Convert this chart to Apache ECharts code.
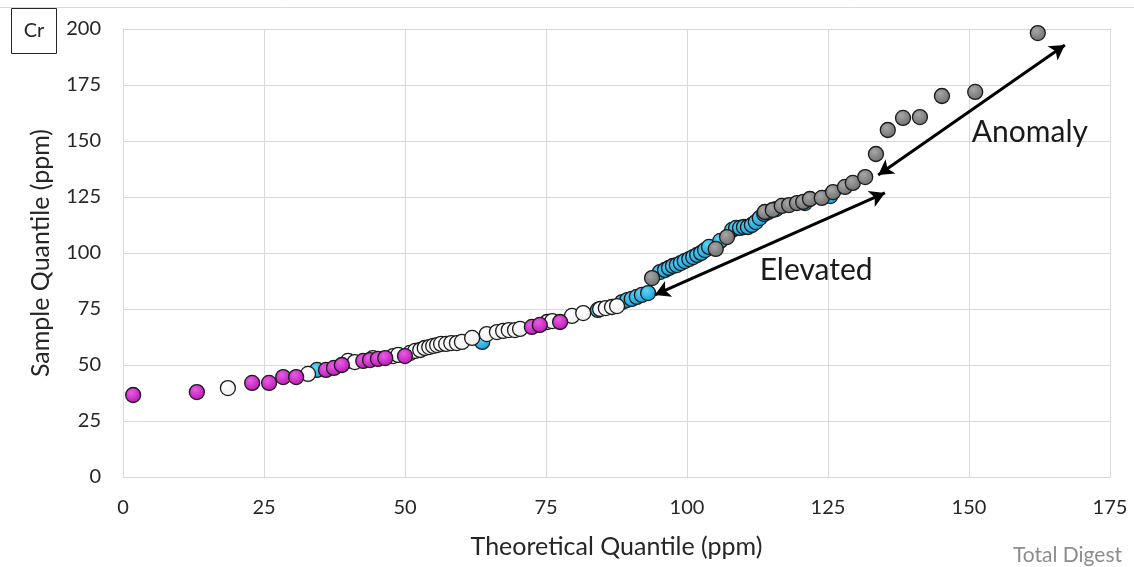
<!DOCTYPE html>
<html>
<head>
<meta charset="utf-8">
<script src="https://cdn.jsdelivr.net/npm/echarts@6/dist/echarts.min.js"></script>
<style>
  html, body { margin: 0; padding: 0; background: #fff; }
  #chart { width: 1134px; height: 567px; }
</style>
</head>
<body>
<div id="chart"></div>
<script>
// Q-Q plot of Cr (ppm): theoretical quantile vs sample quantile, grouped by colour class
const xTicks = [0, 25, 50, 75, 100, 125, 150, 175];
const yTicks = [0, 25, 50, 75, 100, 125, 150, 175, 200];

const magentaPts = [
  [1.8, 36.6], [13.1, 37.9], [22.9, 42.0], [25.9, 42.0], [28.4, 44.6], [30.7, 44.6],
  [36.0, 47.8], [37.4, 48.7], [38.8, 50.0], [42.6, 51.8], [43.8, 52.2], [45.2, 52.7],
  [46.5, 53.1], [50.0, 54.0], [72.5, 67.0], [73.9, 67.9], [77.5, 69.2]
];

const whitePts = [
  [18.6, 39.7], [32.8, 46.0], [39.9, 51.8], [41.1, 51.3], [44.3, 53.1], [47.9, 54.0],
  [48.8, 54.5], [50.9, 55.4], [51.8, 56.3], [52.7, 56.7], [53.5, 57.6], [54.3, 58.0],
  [55.0, 58.5], [55.7, 58.9], [56.4, 59.4], [57.3, 59.4], [58.2, 59.8], [59.2, 59.8],
  [60.1, 60.3], [61.9, 62.1], [64.5, 63.8], [66.3, 64.7], [67.4, 65.2], [68.4, 65.6],
  [69.5, 65.6], [70.4, 66.1], [75.2, 69.2], [76.1, 69.6], [79.6, 71.9], [81.6, 73.2],
  [84.6, 75.0], [85.6, 75.4], [86.7, 75.9], [87.6, 76.3]
];

const cyanPts = [
  [34.4, 47.8], [63.7, 60.3], [84.2, 74.6], [88.5, 78.1], [89.4, 79.0], [90.2, 79.5],
  [91.1, 80.4], [92.0, 81.3], [93.1, 82.1],
  [95.2, 91.5], [96.1, 92.4], [96.8, 93.3], [97.5, 94.2], [98.2, 94.6], [98.9, 95.5],
  [99.6, 96.4], [100.4, 97.3], [101.1, 98.2], [101.8, 99.1], [102.5, 100.0], [103.2, 101.3],
  [103.9, 102.7], [105.9, 105.4], [108.0, 110.3], [108.7, 111.2], [109.4, 111.2],
  [110.1, 111.6], [110.8, 111.6], [111.5, 112.5], [112.2, 113.8], [112.9, 115.6],
  [113.7, 117.4], [114.4, 118.3], [115.8, 119.6], [120.9, 122.3], [125.4, 125.4]
];

const grayPts = [
  [93.8, 88.8], [105.1, 101.8], [107.1, 107.1], [113.8, 118.3], [115.2, 119.2],
  [116.8, 121.0], [118.1, 121.4], [119.5, 122.3], [120.6, 122.8], [121.8, 124.1],
  [123.9, 124.6], [125.9, 127.2], [128.0, 129.5], [129.4, 131.3], [131.6, 133.9],
  [133.5, 144.2], [135.6, 154.9], [138.3, 160.3], [141.3, 160.7], [145.2, 170.1],
  [151.1, 171.9], [162.2, 198.2]
];

// Annotation arrows (data coordinates) and their captions
const elevatedArrow = [[94.3, 81.3], [135.1, 126.8]];
const anomalyArrow = [[133.9, 134.8], [167.0, 192.9]];
const elevatedLabel = { text: 'Elevated', at: [122.9, 92.4] };
const anomalyLabel = { text: 'Anomaly', at: [160.8, 154.0] };

const FONT = 'Lato, "Open Sans", sans-serif';

function ball(light, dark) {
  return {
    type: 'radial', x: 0.4, y: 0.35, r: 0.7,
    colorStops: [{ offset: 0, color: light }, { offset: 1, color: dark }]
  };
}

function dotSeries(name, data, fill, z) {
  return {
    name: name,
    type: 'scatter',
    data: data,
    symbol: 'circle',
    symbolSize: 15,
    z: z,
    itemStyle: {
      color: fill,
      borderColor: '#1a1a1a',
      borderWidth: 1.3,
      opacity: 1
    },
    emphasis: { disabled: true }
  };
}

function arrowLine(pts) {
  return [{ coord: pts[0] }, { coord: pts[1] }];
}

function caption(lbl) {
  return {
    coord: lbl.at,
    symbol: 'circle',
    symbolSize: 0,
    label: {
      show: true,
      position: 'inside',
      formatter: lbl.text,
      fontFamily: FONT,
      fontSize: 30,
      color: '#1a1a1a'
    }
  };
}

const chart = echarts.init(document.getElementById('chart'), null, { renderer: 'canvas' });

const option = {
  animation: false,
  backgroundColor: '#ffffff',
  textStyle: { fontFamily: FONT },
  grid: { left: 123, right: 24, top: 29, bottom: 90, containLabel: false },
  xAxis: {
    type: 'value',
    min: xTicks[0],
    max: xTicks[xTicks.length - 1],
    interval: xTicks[1] - xTicks[0],
    name: 'Theoretical Quantile (ppm)',
    nameLocation: 'middle',
    nameGap: 57,
    nameTextStyle: { fontFamily: FONT, fontSize: 25, color: '#262626' },
    axisLine: { show: true, lineStyle: { color: '#d9d9d9', width: 1 } },
    axisTick: { show: false },
    axisLabel: { fontFamily: FONT, fontSize: 20, color: '#262626', margin: 21 },
    splitLine: { show: true, lineStyle: { color: '#d9d9d9', width: 1 } }
  },
  yAxis: {
    type: 'value',
    min: yTicks[0],
    max: yTicks[yTicks.length - 1],
    interval: yTicks[1] - yTicks[0],
    name: 'Sample Quantile (ppm)',
    nameLocation: 'middle',
    nameGap: 70,
    nameRotate: 90,
    nameTextStyle: { fontFamily: FONT, fontSize: 25, color: '#262626' },
    axisLine: { show: true, lineStyle: { color: '#d9d9d9', width: 1 } },
    axisTick: { show: false },
    axisLabel: { fontFamily: FONT, fontSize: 20, color: '#262626', margin: 22 },
    splitLine: { show: true, lineStyle: { color: '#d9d9d9', width: 1 } }
  },
  series: [
    dotSeries('Cyan', cyanPts, ball('#5fd3fa', '#129bd0'), 2),
    dotSeries('White', whitePts, ball('#ffffff', '#ececec'), 3),
    dotSeries('Magenta', magentaPts, ball('#ea5ce6', '#b314ad'), 4),
    Object.assign(dotSeries('Gray', grayPts, ball('#a6a6a6', '#6b6b6b'), 5), {
      markLine: {
        silent: true,
        symbol: ['arrow', 'arrow'],
        symbolSize: [13, 15],
        lineStyle: { color: '#000000', width: 3, type: 'solid' },
        label: { show: false },
        emphasis: { disabled: true },
        data: [arrowLine(elevatedArrow), arrowLine(anomalyArrow)]
      },
      markPoint: {
        silent: true,
        data: [caption(elevatedLabel), caption(anomalyLabel)]
      }
    })
  ],
  graphic: [
    { type: 'line', shape: { x1: 0, y1: 7.5, x2: 1134, y2: 7.5 }, style: { stroke: '#d9d9d9', lineWidth: 1 }, silent: true },
    { type: 'rect', shape: { x: 11.5, y: 8.5, width: 45, height: 45 }, style: { fill: '#ffffff', stroke: '#262626', lineWidth: 1 }, silent: true },
    { type: 'text', x: 34, y: 31, style: { text: 'Cr', fontFamily: FONT, fontSize: 20, fill: '#262626', align: 'center', verticalAlign: 'middle' }, silent: true },
    { type: 'text', x: 1122, y: 555, style: { text: 'Total Digest', fontFamily: FONT, fontSize: 21, fill: '#8c8c8c', align: 'right', verticalAlign: 'middle' }, silent: true }
  ]
};

chart.setOption(option);
</script>
</body>
</html>
